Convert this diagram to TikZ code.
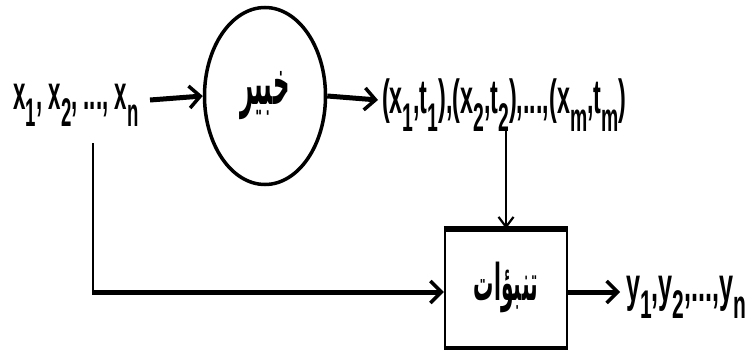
\documentclass[tikz,border=0pt]{standalone}
\usepackage{fontspec}
\setmainfont{Liberation Sans}
\newfontfamily\arabicfont[Script=Arabic]{DejaVu Sans}
\TeXXeTstate=1
\usetikzlibrary{arrows.meta,shapes.geometric}
\newcommand\lowsub[1]{\raisebox{-0.36em}{\fontsize{20}{20}\selectfont #1}}
\newcommand\tallt[2][0.93]{\scalebox{#1}[2.0]{\fontsize{24}{24}\selectfont\bfseries #2}}
\tikzset{
  thickarrow/.style={line width=5pt,-{Straight Barb[length=11pt,width=22pt,line width=3.5pt]}},
  thinarrow/.style={line width=2.2pt,-{Straight Barb[length=10pt,width=15pt,line width=2.2pt]}},
  lbl/.style={inner sep=0pt,outer sep=0pt},
}
\begin{document}
\begin{tikzpicture}[x=1pt,y=-1pt]
\useasboundingbox (0,0) rectangle (745,356);
% nodes
\node[lbl] (xin) at (76,105) {\tallt{x\lowsub{1}, x\lowsub{2}, ..., x\lowsub{n}}};
\node[ellipse,draw,line width=3.5pt,minimum width=121pt,minimum height=177pt,inner sep=0pt] (expert) at (265,96)
  {\scalebox{0.95}[2.6]{\fontsize{24}{24}\selectfont\arabicfont\bfseries\beginR خبير\endR}};
\node[rectangle,draw,line width=2.5pt,minimum width=122pt,minimum height=117pt,inner sep=0pt] (pred) at (506,288.5)
  {\raisebox{14pt}{\scalebox{0.92}[2.3]{\fontsize{22}{22}\selectfont\arabicfont\bfseries\beginR تنبؤات\endR}}};
\node[lbl,anchor=west] (pairs) at (382,105) {\tallt[0.97]{(x\lowsub{1},t\lowsub{1}),(x\lowsub{2},t\lowsub{2}),...,(x\lowsub{m},t\lowsub{m})}};
\node[lbl,anchor=west] (yout) at (626,297) {\tallt[1.05]{y\lowsub{1},y\lowsub{2},...,y\lowsub{n}}};
% thick top and bottom edges of the box
\draw[line width=5.5pt] (pred.north west) -- (pred.north east);
\draw[line width=4pt] (pred.south west) -- (pred.south east);
% connectors
\coordinate (c1) at (93,143);
\coordinate (c2) at (93,292);
\coordinate (c3) at (506,128);
\coordinate (a0) at (150,100);
\coordinate (a1) at (378,100);
\draw[thickarrow] (a0) -- (expert.west);
\draw[thickarrow] (expert.east) -- (a1);
\draw[thinarrow] (c3) -- (pred.north -| c3);
\draw[line width=2.2pt] (c1) -- (c2);
\draw[thickarrow] ([xshift=-1pt]c2) -- (c2 -| pred.west);
\draw[thickarrow] (pred.east |- c2) -- (620,292);
\end{tikzpicture}
\end{document}
